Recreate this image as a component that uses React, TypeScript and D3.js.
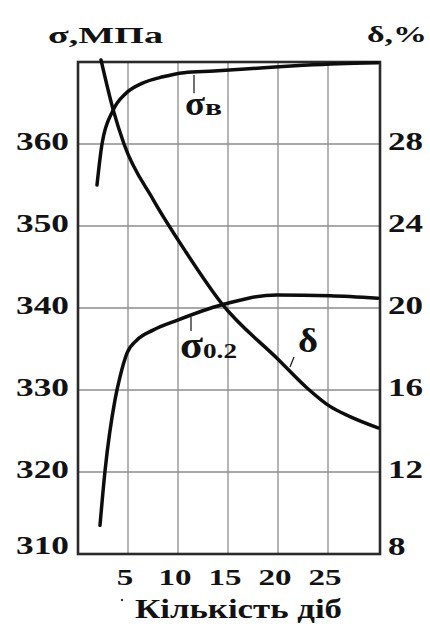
import React from "react";
import * as d3 from "d3";

// ---- data ----
const xTicks = [5, 10, 15, 20, 25];
const leftTicks = [310, 320, 330, 340, 350, 360];
const rightTicks = [8, 12, 16, 20, 24, 28];
const gridLeft = [320, 330, 340, 350, 360];

const sigmaBDays = [1.9, 2.4, 3.5, 4.8, 6.4, 8.5, 10.6, 13.6, 18.6, 22.5, 26, 30];
const sigmaBValues = [355.0, 360.0, 364.1, 366.2, 367.4, 368.2, 368.7, 368.9, 369.3, 369.6, 369.8, 369.9];

const sigma02Days = [2.2, 2.7, 3.7, 4.2, 4.9, 5.9, 7.5, 9.9, 14.4, 19.9, 25.2, 30];
const sigma02Values = [313.5, 320.1, 328.8, 331.6, 334.5, 336.1, 337.3, 338.5, 340.4, 341.6, 341.5, 341.2];

const deltaDays = [2.3, 3.5, 4.6, 7.5, 10.7, 14.4, 20, 22.9, 25.2, 27.2, 30];
const deltaValues = [32.1, 29.7, 28.0, 25.3, 22.8, 20.2, 17.5, 16.1, 15.2, 14.7, 14.15];

const W = 430;
const H = 624;
const FONT = "'Liberation Serif', 'Times New Roman', serif";
const INK = "#121212";

export default function App() {
  const x = d3.scaleLinear().domain([0, 30.2]).range([78, 380]);
  const yL = d3.scaleLinear().domain([310, 370]).range([554, 62]);
  const yR = d3.scaleLinear().domain([8, 32]).range([554, 62]);

  const lineL = d3
    .line<[number, number]>()
    .x((d) => x(d[0]))
    .y((d) => yL(d[1]))
    .curve(d3.curveMonotoneX);
  const lineR = d3
    .line<[number, number]>()
    .x((d) => x(d[0]))
    .y((d) => yR(d[1]))
    .curve(d3.curveMonotoneX);

  const sB = sigmaBDays.map((d, i) => [d, sigmaBValues[i]] as [number, number]);
  const s02 = sigma02Days.map((d, i) => [d, sigma02Values[i]] as [number, number]);
  const dl = deltaDays.map((d, i) => [d, deltaValues[i]] as [number, number]);

  const x0 = x(0), x1 = x(30.2), yTop = yL(370), yBot = yL(310);

  const txt = (
    key: string,
    s: string,
    px: number,
    py: number,
    size: number,
    len: number,
    anchor: "start" | "middle" | "end" = "start"
  ) => (
    <text
      key={key}
      x={px}
      y={py}
      fontFamily={FONT}
      fontWeight="bold"
      fontSize={size}
      fill={INK}
      textAnchor={anchor}
      textLength={len}
      lengthAdjust="spacingAndGlyphs"
    >
      {s}
    </text>
  );

  return (
    <svg
      width={W}
      height={H}
      style={{ position: "absolute", left: 0, top: 0, background: "#fff" }}
    >
      <rect x={0} y={0} width={W} height={H} fill="#fff" />
      {/* grid */}
      {gridLeft.map((v) => (
        <line key={"gh" + v} x1={x0} x2={x1} y1={yL(v)} y2={yL(v)} stroke="#8c8c8c" strokeWidth={1.3} />
      ))}
      {xTicks.map((v) => (
        <line key={"gv" + v} x1={x(v)} x2={x(v)} y1={yTop} y2={yBot} stroke="#8c8c8c" strokeWidth={1.3} />
      ))}
      {/* frame */}
      <rect x={x0} y={yTop} width={x1 - x0} height={yBot - yTop} fill="none" stroke="#2a2a2a" strokeWidth={2.6} />

      {/* curves */}
      <path d={lineL(sB) || ""} fill="none" stroke="#0d0d0d" strokeWidth={3.5} strokeLinecap="round" />
      <path d={lineL(s02) || ""} fill="none" stroke="#0d0d0d" strokeWidth={3.5} strokeLinecap="round" />
      <path d={lineR(dl) || ""} fill="none" stroke="#0d0d0d" strokeWidth={3.5} strokeLinecap="round" />

      {/* left tick labels */}
      {leftTicks.map((v) =>
        txt("l" + v, String(v), 69, v === 310 ? yL(v) : yL(v) + 5.5, 25, 53, "end")
      )}
      {/* right tick labels */}
      {rightTicks.map((v) =>
        txt("r" + v, String(v), 388, v === 8 ? yR(v) + 1 : yR(v) + 6, 25, String(v).length * 17.5, "start")
      )}
      {/* bottom tick labels */}
      {xTicks.map((v) =>
        txt("b" + v, String(v), x(v) - 3, 585, 24, String(v).length * 16.5, "middle")
      )}

      {/* axis titles */}
      {txt("tl", "σ,МПа", 48, 43, 23, 115)}
      {txt("tr", "δ,%", 367, 42, 24, 60)}
      {txt("tb", "Кількість діб", 135, 617.5, 28, 207)}
      <circle cx={122} cy={600} r={1.2} fill="#333" />

      {/* curve annotations */}
      <line x1={x(11.6)} x2={x(11.6)} y1={yL(368.4)} y2={yL(366.2)} stroke={INK} strokeWidth={1.2} />
      {txt("sb1", "σ", x(10.7), yL(363.5), 34, 20)}
      {txt("sb2", "в", x(12.7), yL(363.5), 24, 17)}

      <line x1={x(11.3)} x2={x(11.3)} y1={yL(338.9)} y2={yL(337.2)} stroke={INK} strokeWidth={1.2} />
      {txt("s021", "σ", x(10.2), yL(333.9), 38, 23)}
      {txt("s022", "0.2", x(12.5), yL(333.9), 22, 34)}

      <line x1={x(21.2)} x2={x(21.6)} y1={yR(17.12)} y2={yR(17.61)} stroke={INK} strokeWidth={1.2} />
      {txt("dl", "δ", x(22), yR(17.85), 34, 20)}
    </svg>
  );
}
